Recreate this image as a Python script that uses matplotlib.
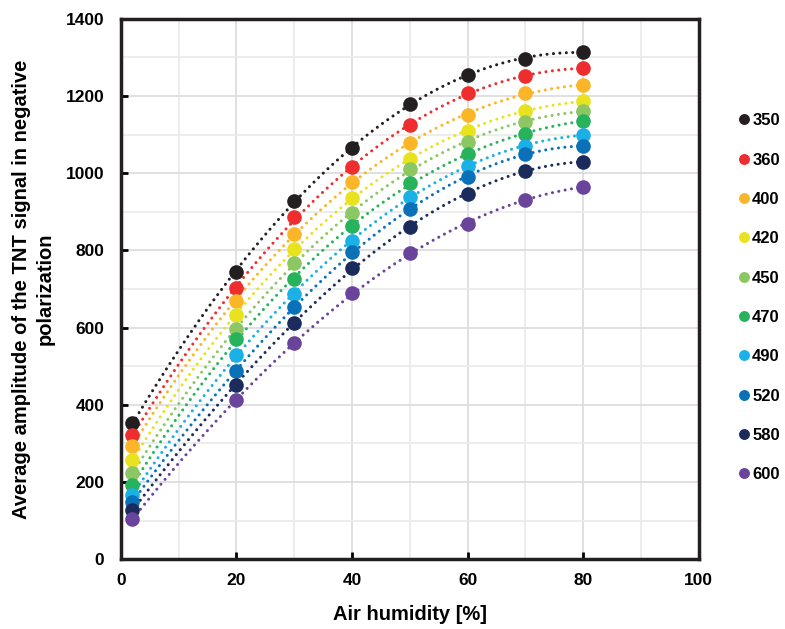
import numpy as np
import matplotlib
matplotlib.use("Agg")
import matplotlib.pyplot as plt
from matplotlib.ticker import MultipleLocator

plt.rcParams['font.family'] = ['Liberation Sans', 'DejaVu Sans']
plt.rcParams['font.weight'] = 'bold'

# air humidity [%]
humidity = [2, 20, 30, 40, 50, 60, 70, 80]

labels = ['350', '360', '400', '420', '450', '470', '490', '520', '580', '600']
colors = ['#231f20', '#ee2d2f', '#fbb627', '#e8e31e', '#8cc763',
          '#27b35c', '#1bb0e6', '#0a71b8', '#1b2b5b', '#6a449b']

s350 = [352, 745, 929, 1065, 1180, 1255, 1295, 1315]
s360 = [321, 702, 886, 1015, 1124, 1207, 1252, 1272]
s400 = [294, 670, 843, 977, 1078, 1151, 1207, 1229]
s420 = [257, 632, 803, 936, 1037, 1110, 1161, 1187]
s450 = [223, 597, 767, 896, 1010, 1082, 1134, 1161]
s470 = [192, 570, 726, 864, 974, 1049, 1102, 1136]
s490 = [166, 530, 687, 825, 939, 1019, 1071, 1099]
s520 = [149, 488, 653, 795, 907, 991, 1049, 1071]
s580 = [127, 452, 613, 754, 862, 946, 1006, 1030]
s600 = [104, 412, 559, 689, 793, 868, 931, 965]
series = [s350, s360, s400, s420, s450, s470, s490, s520, s580, s600]

fig = plt.figure(figsize=(7.85, 6.29), dpi=100)
ax = fig.add_axes([0.154, 0.111, 0.736, 0.859])

xs = np.linspace(min(humidity), max(humidity), 200)
for vals, col, lab in zip(series, colors, labels):
    # polynomial trendline like excel
    coef = np.polyfit(humidity, vals, 3)
    ax.plot(xs, np.polyval(coef, xs), color=col, lw=2.2, linestyle=(0, (0.01, 2.1)),
            dash_capstyle='round', zorder=2)
    ax.plot(humidity, vals, 'o', color=col, ms=9.5, zorder=3, label=lab)

ax.set_xlim(0, 100)
ax.set_ylim(0, 1400)
ax.xaxis.set_major_locator(MultipleLocator(20))
ax.xaxis.set_minor_locator(MultipleLocator(10))
ax.yaxis.set_major_locator(MultipleLocator(200))
ax.yaxis.set_minor_locator(MultipleLocator(100))
ax.grid(True, which='major', color='#dddddd', lw=1.3, zorder=0)
ax.grid(True, which='minor', color='#ececec', lw=1.3, zorder=0)
ax.set_axisbelow(True)
ax.tick_params(which='major', direction='in', length=5, width=2, labelsize=12.5)
ax.tick_params(axis='y', pad=12)
ax.tick_params(axis='x', pad=10)
ax.tick_params(which='minor', length=0)
for sp in ax.spines.values():
    sp.set_linewidth(2.5)
    sp.set_color('#231f20')
for t in ax.get_xticklabels() + ax.get_yticklabels():
    t.set_fontweight('bold')

ax.set_xlabel('Air humidity [%]', fontsize=14.5, fontweight='bold', labelpad=12)
ax.set_ylabel('Average amplitude of the TNT signal in negative\npolarization',
              fontsize=14.5, fontweight='bold', labelpad=8, linespacing=1.3)

ax.legend(loc='center left', bbox_to_anchor=(1.058, 0.484), frameon=False,
          handlelength=0.6, handletextpad=0.2, labelspacing=1.46, markerscale=0.72,
          prop={'size': 12, 'weight': 'bold'}, borderaxespad=0)

fig.savefig('out.png', dpi=100)
